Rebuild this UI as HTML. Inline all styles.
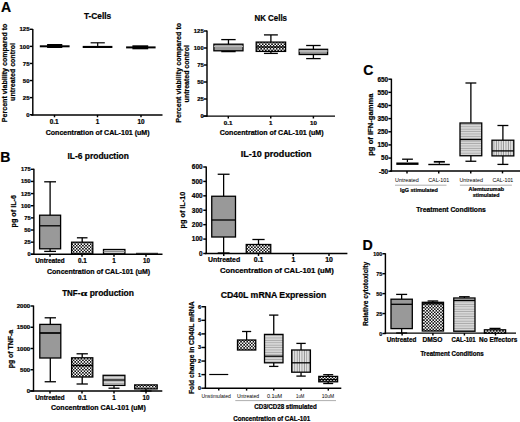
<!DOCTYPE html>
<html><head><meta charset="utf-8"><style>
html,body{margin:0;padding:0;background:#fff;}
svg{display:block;}
text{font-family:"Liberation Sans", sans-serif;}
text[font-weight="bold"]{stroke:#000;stroke-width:0.22px;}
</style></head><body>
<svg width="520" height="422" viewBox="0 0 520 422">
<rect width="520" height="422" fill="#fff"/>

<defs>
<pattern id="chk" width="3.1" height="3.1" patternUnits="userSpaceOnUse">
  <rect width="3.1" height="3.1" fill="#111"/>
  <rect width="1.55" height="1.55" fill="#fff"/>
  <rect x="1.55" y="1.55" width="1.55" height="1.55" fill="#fff"/>
</pattern>
<pattern id="hstr" width="4" height="2.4" patternUnits="userSpaceOnUse">
  <rect width="4" height="2.4" fill="#dadada"/>
  <rect y="1.5" width="4" height="0.9" fill="#a6a6a6"/>
</pattern>
<pattern id="vstr" width="2.4" height="4" patternUnits="userSpaceOnUse">
  <rect width="2.4" height="4" fill="#e6e6e6"/>
  <rect x="1.5" width="0.9" height="4" fill="#8f8f8f"/>
</pattern>
</defs>

<text x="6.10" y="11.84" font-size="14" font-weight="bold" text-anchor="middle" fill="#000">A</text>
<text x="5.30" y="161.79" font-size="14" font-weight="bold" text-anchor="middle" fill="#000">B</text>
<text x="368.40" y="75.24" font-size="14" font-weight="bold" text-anchor="middle" fill="#000">C</text>
<text x="367.60" y="250.21" font-size="14.2" font-weight="bold" text-anchor="middle" fill="#000">D</text>
<line x1="32.80" y1="29.00" x2="32.80" y2="115.50" stroke="#000" stroke-width="1.45"/>
<line x1="29.80" y1="114.70" x2="32.80" y2="114.70" stroke="#000" stroke-width="1.45"/>
<text x="29.50" y="116.86" font-size="6.0" font-weight="bold" text-anchor="end" fill="#000">0</text>
<line x1="29.80" y1="97.62" x2="32.80" y2="97.62" stroke="#000" stroke-width="1.45"/>
<text x="29.50" y="99.78" font-size="6.0" font-weight="bold" text-anchor="end" fill="#000">25</text>
<line x1="29.80" y1="80.54" x2="32.80" y2="80.54" stroke="#000" stroke-width="1.45"/>
<text x="29.50" y="82.70" font-size="6.0" font-weight="bold" text-anchor="end" fill="#000">50</text>
<line x1="29.80" y1="63.46" x2="32.80" y2="63.46" stroke="#000" stroke-width="1.45"/>
<text x="29.50" y="65.62" font-size="6.0" font-weight="bold" text-anchor="end" fill="#000">75</text>
<line x1="29.80" y1="46.38" x2="32.80" y2="46.38" stroke="#000" stroke-width="1.45"/>
<text x="29.50" y="48.54" font-size="6.0" font-weight="bold" text-anchor="end" fill="#000">100</text>
<line x1="29.80" y1="29.30" x2="32.80" y2="29.30" stroke="#000" stroke-width="1.45"/>
<text x="29.50" y="31.46" font-size="6.0" font-weight="bold" text-anchor="end" fill="#000">125</text>
<line x1="31.00" y1="114.90" x2="162.50" y2="114.90" stroke="#000" stroke-width="1.45"/>
<line x1="54.50" y1="114.90" x2="54.50" y2="117.30" stroke="#000" stroke-width="1.45"/>
<line x1="97.50" y1="114.90" x2="97.50" y2="117.30" stroke="#000" stroke-width="1.45"/>
<line x1="141.00" y1="114.90" x2="141.00" y2="117.30" stroke="#000" stroke-width="1.45"/>
<text x="54.20" y="123.80" font-size="6.4" font-weight="bold" text-anchor="middle" fill="#000">0.1</text>
<text x="97.50" y="123.80" font-size="6.4" font-weight="bold" text-anchor="middle" fill="#000">1</text>
<text x="141.00" y="123.80" font-size="6.4" font-weight="bold" text-anchor="middle" fill="#000">10</text>
<text x="97.60" y="18.72" font-size="8.4" font-weight="bold" text-anchor="middle" fill="#000" textLength="27.20" lengthAdjust="spacingAndGlyphs">T-Cells</text>
<text x="97.65" y="135.02" font-size="7.0" font-weight="bold" text-anchor="middle" fill="#000" textLength="103.90" lengthAdjust="spacingAndGlyphs">Concentration of CAL-101 (uM)</text>
<text transform="translate(6.60,72.90) rotate(-90)" x="0" y="0" font-size="7.0" font-weight="bold" text-anchor="middle" textLength="98.60" lengthAdjust="spacingAndGlyphs">Percent viability compared to</text>
<text transform="translate(14.90,71.95) rotate(-90)" x="0" y="0" font-size="7.0" font-weight="bold" text-anchor="middle" textLength="57.90" lengthAdjust="spacingAndGlyphs">untreated control</text>
<rect x="39.80" y="45.30" width="29.80" height="2.0" fill="#000"/>
<rect x="47.10" y="44.00" width="15.20" height="4.0" fill="#000"/>
<rect x="82.7" y="45.9" width="29.7" height="2.1" fill="#000"/>
<line x1="97.70" y1="42.80" x2="97.70" y2="46.00" stroke="#000" stroke-width="1.2"/>
<line x1="90.60" y1="42.80" x2="104.80" y2="42.80" stroke="#000" stroke-width="1.2"/>
<rect x="126.10" y="46.40" width="29.50" height="2.0" fill="#000"/>
<rect x="132.40" y="45.30" width="15.80" height="4.0" fill="#000"/>
<line x1="207.00" y1="30.50" x2="207.00" y2="116.70" stroke="#000" stroke-width="1.45"/>
<line x1="204.00" y1="116.00" x2="207.00" y2="116.00" stroke="#000" stroke-width="1.45"/>
<text x="203.70" y="118.12" font-size="5.9" font-weight="bold" text-anchor="end" fill="#000">0</text>
<line x1="204.00" y1="99.00" x2="207.00" y2="99.00" stroke="#000" stroke-width="1.45"/>
<text x="203.70" y="101.12" font-size="5.9" font-weight="bold" text-anchor="end" fill="#000">25</text>
<line x1="204.00" y1="82.00" x2="207.00" y2="82.00" stroke="#000" stroke-width="1.45"/>
<text x="203.70" y="84.12" font-size="5.9" font-weight="bold" text-anchor="end" fill="#000">50</text>
<line x1="204.00" y1="65.00" x2="207.00" y2="65.00" stroke="#000" stroke-width="1.45"/>
<text x="203.70" y="67.12" font-size="5.9" font-weight="bold" text-anchor="end" fill="#000">75</text>
<line x1="204.00" y1="48.00" x2="207.00" y2="48.00" stroke="#000" stroke-width="1.45"/>
<text x="203.70" y="50.12" font-size="5.9" font-weight="bold" text-anchor="end" fill="#000">100</text>
<line x1="204.00" y1="31.00" x2="207.00" y2="31.00" stroke="#000" stroke-width="1.45"/>
<text x="203.70" y="33.12" font-size="5.9" font-weight="bold" text-anchor="end" fill="#000">125</text>
<line x1="202.70" y1="116.10" x2="335.00" y2="116.10" stroke="#000" stroke-width="1.45"/>
<line x1="228.30" y1="116.10" x2="228.30" y2="118.50" stroke="#000" stroke-width="1.45"/>
<line x1="270.75" y1="116.10" x2="270.75" y2="118.50" stroke="#000" stroke-width="1.45"/>
<line x1="313.40" y1="116.10" x2="313.40" y2="118.50" stroke="#000" stroke-width="1.45"/>
<text x="228.10" y="124.73" font-size="6.2" font-weight="bold" text-anchor="middle" fill="#000">0.1</text>
<text x="270.75" y="124.73" font-size="6.2" font-weight="bold" text-anchor="middle" fill="#000">1</text>
<text x="313.40" y="124.73" font-size="6.2" font-weight="bold" text-anchor="middle" fill="#000">10</text>
<text x="270.75" y="21.27" font-size="8.4" font-weight="bold" text-anchor="middle" fill="#000" textLength="32.50" lengthAdjust="spacingAndGlyphs">NK Cells</text>
<text x="271.65" y="135.02" font-size="7.0" font-weight="bold" text-anchor="middle" fill="#000" textLength="103.90" lengthAdjust="spacingAndGlyphs">Concentration of CAL-101 (uM)</text>
<text transform="translate(180.90,72.80) rotate(-90)" x="0" y="0" font-size="7.0" font-weight="bold" text-anchor="middle" textLength="100.00" lengthAdjust="spacingAndGlyphs">Percent viability compared to</text>
<text transform="translate(188.90,73.70) rotate(-90)" x="0" y="0" font-size="7.0" font-weight="bold" text-anchor="middle" textLength="57.40" lengthAdjust="spacingAndGlyphs">untreated control</text>
<line x1="228.45" y1="39.60" x2="228.45" y2="44.20" stroke="#000" stroke-width="1.3"/>
<line x1="221.25" y1="39.60" x2="235.65" y2="39.60" stroke="#000" stroke-width="1.3"/>
<line x1="228.45" y1="50.80" x2="228.45" y2="51.60" stroke="#000" stroke-width="1.3"/>
<line x1="221.25" y1="51.60" x2="235.65" y2="51.60" stroke="#000" stroke-width="1.3"/>
<rect x="213.90" y="44.20" width="29.10" height="6.60" fill="#999999" stroke="#000" stroke-width="1.3"/>
<line x1="213.90" y1="46.40" x2="243.00" y2="46.40" stroke="#b5b5b5" stroke-width="1.3"/>
<line x1="270.90" y1="34.90" x2="270.90" y2="42.10" stroke="#000" stroke-width="1.3"/>
<line x1="263.95" y1="34.90" x2="277.85" y2="34.90" stroke="#000" stroke-width="1.3"/>
<line x1="270.90" y1="51.40" x2="270.90" y2="53.40" stroke="#000" stroke-width="1.3"/>
<line x1="263.95" y1="53.40" x2="277.85" y2="53.40" stroke="#000" stroke-width="1.3"/>
<rect x="256.20" y="42.10" width="29.40" height="9.30" fill="url(#chk)" stroke="#000" stroke-width="1.3"/>
<line x1="256.20" y1="47.00" x2="285.60" y2="47.00" stroke="#000" stroke-width="1.3"/>
<line x1="313.40" y1="45.50" x2="313.40" y2="49.30" stroke="#000" stroke-width="1.3"/>
<line x1="306.15" y1="45.50" x2="320.65" y2="45.50" stroke="#000" stroke-width="1.3"/>
<line x1="313.40" y1="54.50" x2="313.40" y2="58.60" stroke="#000" stroke-width="1.3"/>
<line x1="306.15" y1="58.60" x2="320.65" y2="58.60" stroke="#000" stroke-width="1.3"/>
<rect x="299.20" y="49.30" width="28.40" height="5.20" fill="#999999" stroke="#000" stroke-width="1.3"/>
<line x1="299.20" y1="51.00" x2="327.60" y2="51.00" stroke="#c8c8c8" stroke-width="1.3"/>
<line x1="33.90" y1="168.80" x2="33.90" y2="254.90" stroke="#000" stroke-width="1.45"/>
<line x1="30.90" y1="254.30" x2="33.90" y2="254.30" stroke="#000" stroke-width="1.45"/>
<text x="30.60" y="256.35" font-size="5.7" font-weight="bold" text-anchor="end" fill="#000">0</text>
<line x1="30.90" y1="242.16" x2="33.90" y2="242.16" stroke="#000" stroke-width="1.45"/>
<text x="30.60" y="244.21" font-size="5.7" font-weight="bold" text-anchor="end" fill="#000">25</text>
<line x1="30.90" y1="230.01" x2="33.90" y2="230.01" stroke="#000" stroke-width="1.45"/>
<text x="30.60" y="232.07" font-size="5.7" font-weight="bold" text-anchor="end" fill="#000">50</text>
<line x1="30.90" y1="217.87" x2="33.90" y2="217.87" stroke="#000" stroke-width="1.45"/>
<text x="30.60" y="219.92" font-size="5.7" font-weight="bold" text-anchor="end" fill="#000">75</text>
<line x1="30.90" y1="205.73" x2="33.90" y2="205.73" stroke="#000" stroke-width="1.45"/>
<text x="30.60" y="207.78" font-size="5.7" font-weight="bold" text-anchor="end" fill="#000">100</text>
<line x1="30.90" y1="193.59" x2="33.90" y2="193.59" stroke="#000" stroke-width="1.45"/>
<text x="30.60" y="195.64" font-size="5.7" font-weight="bold" text-anchor="end" fill="#000">125</text>
<line x1="30.90" y1="181.44" x2="33.90" y2="181.44" stroke="#000" stroke-width="1.45"/>
<text x="30.60" y="183.49" font-size="5.7" font-weight="bold" text-anchor="end" fill="#000">150</text>
<line x1="30.90" y1="169.30" x2="33.90" y2="169.30" stroke="#000" stroke-width="1.45"/>
<text x="30.60" y="171.35" font-size="5.7" font-weight="bold" text-anchor="end" fill="#000">175</text>
<line x1="31.00" y1="254.30" x2="162.50" y2="254.30" stroke="#000" stroke-width="1.45"/>
<line x1="50.00" y1="254.30" x2="50.00" y2="256.70" stroke="#000" stroke-width="1.45"/>
<line x1="82.00" y1="254.30" x2="82.00" y2="256.70" stroke="#000" stroke-width="1.45"/>
<line x1="114.00" y1="254.30" x2="114.00" y2="256.70" stroke="#000" stroke-width="1.45"/>
<line x1="146.00" y1="254.30" x2="146.00" y2="256.70" stroke="#000" stroke-width="1.45"/>
<text x="50.00" y="262.77" font-size="6.3" font-weight="bold" text-anchor="middle" fill="#000">Untreated</text>
<text x="82.50" y="262.77" font-size="6.3" font-weight="bold" text-anchor="middle" fill="#000">0.1</text>
<text x="114.00" y="262.77" font-size="6.3" font-weight="bold" text-anchor="middle" fill="#000">1</text>
<text x="146.40" y="262.77" font-size="6.3" font-weight="bold" text-anchor="middle" fill="#000">10</text>
<text x="98.15" y="159.02" font-size="8.4" font-weight="bold" text-anchor="middle" fill="#000" textLength="61.30" lengthAdjust="spacingAndGlyphs">IL-6 production</text>
<text x="98.60" y="273.82" font-size="7.0" font-weight="bold" text-anchor="middle" fill="#000" textLength="103.20" lengthAdjust="spacingAndGlyphs">Concentration of CAL-101 (uM)</text>
<text transform="translate(16.10,211.25) rotate(-90)" x="0" y="0" font-size="6.9" font-weight="bold" text-anchor="middle" textLength="32.50" lengthAdjust="spacingAndGlyphs">pg of IL-6</text>
<line x1="50.10" y1="181.80" x2="50.10" y2="215.20" stroke="#000" stroke-width="1.3"/>
<line x1="44.20" y1="181.80" x2="56.00" y2="181.80" stroke="#000" stroke-width="1.3"/>
<line x1="50.10" y1="248.80" x2="50.10" y2="251.40" stroke="#000" stroke-width="1.3"/>
<line x1="44.20" y1="251.40" x2="56.00" y2="251.40" stroke="#000" stroke-width="1.3"/>
<rect x="39.60" y="215.20" width="21.00" height="33.60" fill="#999999" stroke="#000" stroke-width="1.3"/>
<line x1="39.60" y1="225.80" x2="60.60" y2="225.80" stroke="#000" stroke-width="1.3"/>
<line x1="82.20" y1="237.80" x2="82.20" y2="242.20" stroke="#000" stroke-width="1.3"/>
<line x1="76.90" y1="237.80" x2="87.50" y2="237.80" stroke="#000" stroke-width="1.3"/>
<rect x="71.60" y="242.20" width="21.20" height="11.60" fill="url(#chk)" stroke="#000" stroke-width="1.3"/>
<rect x="103.50" y="249.50" width="21.40" height="4.30" fill="#d8d8d8" stroke="#000" stroke-width="1.3"/>
<line x1="103.50" y1="251.60" x2="124.90" y2="251.60" stroke="#888" stroke-width="1.0"/>
<line x1="136.00" y1="253.30" x2="158.00" y2="253.30" stroke="#000" stroke-width="0.9"/>
<line x1="206.25" y1="166.50" x2="206.25" y2="254.10" stroke="#000" stroke-width="1.45"/>
<line x1="203.25" y1="253.50" x2="206.25" y2="253.50" stroke="#000" stroke-width="1.45"/>
<text x="202.65" y="255.84" font-size="6.5" font-weight="bold" text-anchor="end" fill="#000">0</text>
<line x1="203.25" y1="239.08" x2="206.25" y2="239.08" stroke="#000" stroke-width="1.45"/>
<text x="202.65" y="241.42" font-size="6.5" font-weight="bold" text-anchor="end" fill="#000">100</text>
<line x1="203.25" y1="224.67" x2="206.25" y2="224.67" stroke="#000" stroke-width="1.45"/>
<text x="202.65" y="227.01" font-size="6.5" font-weight="bold" text-anchor="end" fill="#000">200</text>
<line x1="203.25" y1="210.25" x2="206.25" y2="210.25" stroke="#000" stroke-width="1.45"/>
<text x="202.65" y="212.59" font-size="6.5" font-weight="bold" text-anchor="end" fill="#000">300</text>
<line x1="203.25" y1="195.83" x2="206.25" y2="195.83" stroke="#000" stroke-width="1.45"/>
<text x="202.65" y="198.17" font-size="6.5" font-weight="bold" text-anchor="end" fill="#000">400</text>
<line x1="203.25" y1="181.42" x2="206.25" y2="181.42" stroke="#000" stroke-width="1.45"/>
<text x="202.65" y="183.76" font-size="6.5" font-weight="bold" text-anchor="end" fill="#000">500</text>
<line x1="203.25" y1="167.00" x2="206.25" y2="167.00" stroke="#000" stroke-width="1.45"/>
<text x="202.65" y="169.34" font-size="6.5" font-weight="bold" text-anchor="end" fill="#000">600</text>
<line x1="205.00" y1="253.50" x2="347.40" y2="253.50" stroke="#000" stroke-width="1.45"/>
<line x1="223.75" y1="253.50" x2="223.75" y2="255.90" stroke="#000" stroke-width="1.45"/>
<line x1="258.50" y1="253.50" x2="258.50" y2="255.90" stroke="#000" stroke-width="1.45"/>
<line x1="293.25" y1="253.50" x2="293.25" y2="255.90" stroke="#000" stroke-width="1.45"/>
<line x1="329.00" y1="253.50" x2="329.00" y2="255.90" stroke="#000" stroke-width="1.45"/>
<text x="224.10" y="262.28" font-size="6.9" font-weight="bold" text-anchor="middle" fill="#000">Untreated</text>
<text x="258.60" y="262.28" font-size="6.9" font-weight="bold" text-anchor="middle" fill="#000">0.1</text>
<text x="293.40" y="262.28" font-size="6.9" font-weight="bold" text-anchor="middle" fill="#000">1</text>
<text x="329.10" y="262.28" font-size="6.9" font-weight="bold" text-anchor="middle" fill="#000">10</text>
<text x="276.12" y="157.27" font-size="8.4" font-weight="bold" text-anchor="middle" fill="#000" textLength="70.75" lengthAdjust="spacingAndGlyphs">IL-10 production</text>
<text x="276.90" y="273.02" font-size="7.0" font-weight="bold" text-anchor="middle" fill="#000" textLength="113.80" lengthAdjust="spacingAndGlyphs">Concentration of CAL-101 (uM)</text>
<text transform="translate(185.40,210.10) rotate(-90)" x="0" y="0" font-size="7.2" font-weight="bold" text-anchor="middle" textLength="36.60" lengthAdjust="spacingAndGlyphs">pg of IL-10</text>
<line x1="223.62" y1="174.25" x2="223.62" y2="196.25" stroke="#000" stroke-width="1.3"/>
<line x1="217.69" y1="174.25" x2="229.56" y2="174.25" stroke="#000" stroke-width="1.3"/>
<line x1="223.62" y1="237.00" x2="223.62" y2="253.00" stroke="#000" stroke-width="1.3"/>
<line x1="217.69" y1="253.00" x2="229.56" y2="253.00" stroke="#000" stroke-width="1.3"/>
<rect x="211.75" y="196.25" width="23.75" height="40.75" fill="#999999" stroke="#000" stroke-width="1.3"/>
<line x1="211.75" y1="220.00" x2="235.50" y2="220.00" stroke="#000" stroke-width="1.3"/>
<line x1="258.50" y1="239.50" x2="258.50" y2="244.50" stroke="#000" stroke-width="1.3"/>
<line x1="252.38" y1="239.50" x2="264.62" y2="239.50" stroke="#000" stroke-width="1.3"/>
<rect x="246.25" y="244.50" width="24.50" height="8.80" fill="url(#chk)" stroke="#000" stroke-width="1.3"/>
<line x1="33.50" y1="305.50" x2="33.50" y2="391.60" stroke="#000" stroke-width="1.45"/>
<line x1="30.50" y1="391.00" x2="33.50" y2="391.00" stroke="#000" stroke-width="1.45"/>
<text x="30.20" y="393.20" font-size="6.1" font-weight="bold" text-anchor="end" fill="#000">0</text>
<line x1="30.50" y1="369.75" x2="33.50" y2="369.75" stroke="#000" stroke-width="1.45"/>
<text x="30.20" y="371.95" font-size="6.1" font-weight="bold" text-anchor="end" fill="#000">500</text>
<line x1="30.50" y1="348.50" x2="33.50" y2="348.50" stroke="#000" stroke-width="1.45"/>
<text x="30.20" y="350.70" font-size="6.1" font-weight="bold" text-anchor="end" fill="#000">1000</text>
<line x1="30.50" y1="327.25" x2="33.50" y2="327.25" stroke="#000" stroke-width="1.45"/>
<text x="30.20" y="329.45" font-size="6.1" font-weight="bold" text-anchor="end" fill="#000">1500</text>
<line x1="30.50" y1="306.00" x2="33.50" y2="306.00" stroke="#000" stroke-width="1.45"/>
<text x="30.20" y="308.20" font-size="6.1" font-weight="bold" text-anchor="end" fill="#000">2000</text>
<line x1="30.00" y1="391.00" x2="162.30" y2="391.00" stroke="#000" stroke-width="1.45"/>
<line x1="50.00" y1="391.00" x2="50.00" y2="393.40" stroke="#000" stroke-width="1.45"/>
<line x1="82.00" y1="391.00" x2="82.00" y2="393.40" stroke="#000" stroke-width="1.45"/>
<line x1="114.00" y1="391.00" x2="114.00" y2="393.40" stroke="#000" stroke-width="1.45"/>
<line x1="146.00" y1="391.00" x2="146.00" y2="393.40" stroke="#000" stroke-width="1.45"/>
<text x="50.00" y="399.77" font-size="6.3" font-weight="bold" text-anchor="middle" fill="#000">Untreated</text>
<text x="82.50" y="399.77" font-size="6.3" font-weight="bold" text-anchor="middle" fill="#000">0.1</text>
<text x="114.00" y="399.77" font-size="6.3" font-weight="bold" text-anchor="middle" fill="#000">1</text>
<text x="146.00" y="399.77" font-size="6.3" font-weight="bold" text-anchor="middle" fill="#000">10</text>
<text x="62.3" y="295.6" font-size="8.3" font-weight="bold" textLength="18.0" lengthAdjust="spacingAndGlyphs">TNF-</text>
<text x="80.6" y="295.6" font-size="9.2" font-weight="bold" style="font-family:'Liberation Serif',serif" textLength="6.8" lengthAdjust="spacingAndGlyphs">&#945;</text>
<text x="89.7" y="295.6" font-size="8.3" font-weight="bold" textLength="44.2" lengthAdjust="spacingAndGlyphs">production</text>
<text x="98.40" y="410.32" font-size="7.0" font-weight="bold" text-anchor="middle" fill="#000" textLength="94.80" lengthAdjust="spacingAndGlyphs">Concentration CAL-101 (uM)</text>
<text transform="translate(13.00,349.05) rotate(-90)" x="0" y="0" font-size="6.8" font-weight="bold" text-anchor="middle" textLength="38.50" lengthAdjust="spacingAndGlyphs">pg of TNF-a</text>
<line x1="50.30" y1="317.80" x2="50.30" y2="324.40" stroke="#000" stroke-width="1.3"/>
<line x1="44.65" y1="317.80" x2="55.95" y2="317.80" stroke="#000" stroke-width="1.3"/>
<line x1="50.30" y1="358.00" x2="50.30" y2="381.75" stroke="#000" stroke-width="1.3"/>
<line x1="44.65" y1="381.75" x2="55.95" y2="381.75" stroke="#000" stroke-width="1.3"/>
<rect x="39.80" y="324.40" width="21.00" height="33.60" fill="#999999" stroke="#000" stroke-width="1.3"/>
<line x1="39.80" y1="333.00" x2="60.80" y2="333.00" stroke="#000" stroke-width="1.7"/>
<line x1="82.20" y1="353.80" x2="82.20" y2="357.80" stroke="#000" stroke-width="1.3"/>
<line x1="76.55" y1="353.80" x2="87.85" y2="353.80" stroke="#000" stroke-width="1.3"/>
<line x1="82.20" y1="377.00" x2="82.20" y2="384.00" stroke="#000" stroke-width="1.3"/>
<line x1="76.55" y1="384.00" x2="87.85" y2="384.00" stroke="#000" stroke-width="1.3"/>
<rect x="71.60" y="357.80" width="21.20" height="19.20" fill="url(#chk)" stroke="#000" stroke-width="1.3"/>
<line x1="71.60" y1="365.50" x2="92.80" y2="365.50" stroke="#000" stroke-width="1.5"/>
<line x1="114.00" y1="385.40" x2="114.00" y2="388.20" stroke="#000" stroke-width="1.3"/>
<line x1="108.50" y1="388.20" x2="119.50" y2="388.20" stroke="#000" stroke-width="1.3"/>
<rect x="103.10" y="375.30" width="21.80" height="10.10" fill="url(#hstr)" stroke="#000" stroke-width="1.3"/>
<line x1="103.10" y1="380.00" x2="124.90" y2="380.00" stroke="#000" stroke-width="1.3"/>
<line x1="145.95" y1="388.90" x2="145.95" y2="391.00" stroke="#000" stroke-width="1.3"/>
<line x1="140.32" y1="391.00" x2="151.57" y2="391.00" stroke="#000" stroke-width="1.3"/>
<rect x="134.70" y="384.90" width="22.50" height="4.00" fill="url(#chk)" stroke="#000" stroke-width="1.3"/>
<line x1="205.40" y1="306.10" x2="205.40" y2="388.80" stroke="#000" stroke-width="1.45"/>
<line x1="201.40" y1="388.20" x2="205.40" y2="388.20" stroke="#000" stroke-width="1.45"/>
<text x="201.10" y="390.14" font-size="5.4" font-weight="bold" text-anchor="end" fill="#000">0</text>
<line x1="201.40" y1="374.62" x2="205.40" y2="374.62" stroke="#000" stroke-width="1.45"/>
<text x="201.10" y="376.57" font-size="5.4" font-weight="bold" text-anchor="end" fill="#000">1</text>
<line x1="201.40" y1="361.05" x2="205.40" y2="361.05" stroke="#000" stroke-width="1.45"/>
<text x="201.10" y="362.99" font-size="5.4" font-weight="bold" text-anchor="end" fill="#000">2</text>
<line x1="201.40" y1="347.48" x2="205.40" y2="347.48" stroke="#000" stroke-width="1.45"/>
<text x="201.10" y="349.42" font-size="5.4" font-weight="bold" text-anchor="end" fill="#000">3</text>
<line x1="201.40" y1="333.90" x2="205.40" y2="333.90" stroke="#000" stroke-width="1.45"/>
<text x="201.10" y="335.84" font-size="5.4" font-weight="bold" text-anchor="end" fill="#000">4</text>
<line x1="201.40" y1="320.32" x2="205.40" y2="320.32" stroke="#000" stroke-width="1.45"/>
<text x="201.10" y="322.27" font-size="5.4" font-weight="bold" text-anchor="end" fill="#000">5</text>
<line x1="201.40" y1="306.75" x2="205.40" y2="306.75" stroke="#000" stroke-width="1.45"/>
<text x="201.10" y="308.69" font-size="5.4" font-weight="bold" text-anchor="end" fill="#000">6</text>
<line x1="204.60" y1="388.20" x2="341.30" y2="388.20" stroke="#000" stroke-width="1.45"/>
<line x1="218.75" y1="388.20" x2="218.75" y2="390.60" stroke="#000" stroke-width="1.45"/>
<line x1="246.60" y1="388.20" x2="246.60" y2="390.60" stroke="#000" stroke-width="1.45"/>
<line x1="273.75" y1="388.20" x2="273.75" y2="390.60" stroke="#000" stroke-width="1.45"/>
<line x1="301.00" y1="388.20" x2="301.00" y2="390.60" stroke="#000" stroke-width="1.45"/>
<line x1="328.30" y1="388.20" x2="328.30" y2="390.60" stroke="#000" stroke-width="1.45"/>
<text x="216.15" y="397.77" font-size="5.2" font-weight="normal" text-anchor="middle" fill="#000" textLength="29.50" lengthAdjust="spacingAndGlyphs">Unstimulated</text>
<text x="248.00" y="397.77" font-size="5.2" font-weight="normal" text-anchor="middle" fill="#000" textLength="22.20" lengthAdjust="spacingAndGlyphs">Untreated</text>
<text x="274.55" y="397.77" font-size="5.2" font-weight="normal" text-anchor="middle" fill="#000" textLength="15.30" lengthAdjust="spacingAndGlyphs">0.1uM</text>
<text x="300.20" y="397.77" font-size="5.2" font-weight="normal" text-anchor="middle" fill="#000" textLength="8.40" lengthAdjust="spacingAndGlyphs">1uM</text>
<text x="327.90" y="397.77" font-size="5.2" font-weight="normal" text-anchor="middle" fill="#000" textLength="12.40" lengthAdjust="spacingAndGlyphs">10uM</text>
<line x1="235.30" y1="400.60" x2="336.00" y2="400.60" stroke="#999" stroke-width="0.8"/>
<text x="285.50" y="408.77" font-size="6.3" font-weight="bold" text-anchor="middle" fill="#000" textLength="62.60" lengthAdjust="spacingAndGlyphs">CD3/CD28 stimulated</text>
<text x="271.70" y="421.17" font-size="6.3" font-weight="bold" text-anchor="middle" fill="#000" textLength="77.00" lengthAdjust="spacingAndGlyphs">Concentration of CAL-101</text>
<text x="273.57" y="297.63" font-size="8.7" font-weight="bold" text-anchor="middle" fill="#000" textLength="105.65" lengthAdjust="spacingAndGlyphs">CD40L mRNA Expression</text>
<text transform="translate(194.40,347.75) rotate(-90)" x="0" y="0" font-size="6.8" font-weight="bold" text-anchor="middle" textLength="92.50" lengthAdjust="spacingAndGlyphs">Fold change in CD40L mRNA</text>
<line x1="209.25" y1="374.50" x2="228.25" y2="374.50" stroke="#000" stroke-width="1.2"/>
<line x1="246.62" y1="331.50" x2="246.62" y2="340.00" stroke="#000" stroke-width="1.3"/>
<line x1="242.06" y1="331.50" x2="251.19" y2="331.50" stroke="#000" stroke-width="1.3"/>
<rect x="237.50" y="340.00" width="18.25" height="10.00" fill="url(#chk)" stroke="#000" stroke-width="1.3"/>
<line x1="273.75" y1="315.10" x2="273.75" y2="334.40" stroke="#000" stroke-width="1.3"/>
<line x1="269.12" y1="315.10" x2="278.38" y2="315.10" stroke="#000" stroke-width="1.3"/>
<line x1="273.75" y1="362.80" x2="273.75" y2="366.40" stroke="#000" stroke-width="1.3"/>
<line x1="269.12" y1="366.40" x2="278.38" y2="366.40" stroke="#000" stroke-width="1.3"/>
<rect x="264.50" y="334.40" width="18.50" height="28.40" fill="url(#hstr)" stroke="#000" stroke-width="1.3"/>
<line x1="264.50" y1="356.20" x2="283.00" y2="356.20" stroke="#000" stroke-width="1.3"/>
<line x1="301.05" y1="343.40" x2="301.05" y2="350.00" stroke="#000" stroke-width="1.3"/>
<line x1="296.37" y1="343.40" x2="305.72" y2="343.40" stroke="#000" stroke-width="1.3"/>
<line x1="301.05" y1="372.20" x2="301.05" y2="376.10" stroke="#000" stroke-width="1.3"/>
<line x1="296.37" y1="376.10" x2="305.72" y2="376.10" stroke="#000" stroke-width="1.3"/>
<rect x="291.70" y="350.00" width="18.70" height="22.20" fill="url(#vstr)" stroke="#000" stroke-width="1.3"/>
<line x1="291.70" y1="362.80" x2="310.40" y2="362.80" stroke="#000" stroke-width="1.3"/>
<line x1="328.20" y1="374.70" x2="328.20" y2="376.40" stroke="#000" stroke-width="1.3"/>
<line x1="323.20" y1="374.70" x2="333.20" y2="374.70" stroke="#000" stroke-width="1.3"/>
<line x1="328.20" y1="381.80" x2="328.20" y2="383.50" stroke="#000" stroke-width="1.3"/>
<line x1="323.20" y1="383.50" x2="333.20" y2="383.50" stroke="#000" stroke-width="1.3"/>
<rect x="318.80" y="376.40" width="18.80" height="5.40" fill="url(#chk)" stroke="#000" stroke-width="1.3"/>
<line x1="318.80" y1="379.60" x2="337.60" y2="379.60" stroke="#000" stroke-width="1.3"/>
<line x1="391.40" y1="78.70" x2="391.40" y2="171.80" stroke="#000" stroke-width="1.45"/>
<line x1="388.40" y1="171.20" x2="391.40" y2="171.20" stroke="#000" stroke-width="1.45"/>
<text x="388.20" y="173.50" font-size="6.4" font-weight="bold" text-anchor="end" fill="#000">-50</text>
<line x1="388.40" y1="158.06" x2="391.40" y2="158.06" stroke="#000" stroke-width="1.45"/>
<text x="388.20" y="160.36" font-size="6.4" font-weight="bold" text-anchor="end" fill="#000">50</text>
<line x1="388.40" y1="144.91" x2="391.40" y2="144.91" stroke="#000" stroke-width="1.45"/>
<text x="388.20" y="147.22" font-size="6.4" font-weight="bold" text-anchor="end" fill="#000">150</text>
<line x1="388.40" y1="131.77" x2="391.40" y2="131.77" stroke="#000" stroke-width="1.45"/>
<text x="388.20" y="134.08" font-size="6.4" font-weight="bold" text-anchor="end" fill="#000">250</text>
<line x1="388.40" y1="118.63" x2="391.40" y2="118.63" stroke="#000" stroke-width="1.45"/>
<text x="388.20" y="120.93" font-size="6.4" font-weight="bold" text-anchor="end" fill="#000">350</text>
<line x1="388.40" y1="105.49" x2="391.40" y2="105.49" stroke="#000" stroke-width="1.45"/>
<text x="388.20" y="107.79" font-size="6.4" font-weight="bold" text-anchor="end" fill="#000">450</text>
<line x1="388.40" y1="92.34" x2="391.40" y2="92.34" stroke="#000" stroke-width="1.45"/>
<text x="388.20" y="94.65" font-size="6.4" font-weight="bold" text-anchor="end" fill="#000">550</text>
<line x1="388.40" y1="79.20" x2="391.40" y2="79.20" stroke="#000" stroke-width="1.45"/>
<text x="388.20" y="81.50" font-size="6.4" font-weight="bold" text-anchor="end" fill="#000">650</text>
<line x1="390.00" y1="171.00" x2="520.00" y2="171.00" stroke="#000" stroke-width="1.45"/>
<line x1="407.00" y1="171.00" x2="407.00" y2="173.40" stroke="#000" stroke-width="1.45"/>
<line x1="438.75" y1="171.00" x2="438.75" y2="173.40" stroke="#000" stroke-width="1.45"/>
<line x1="470.75" y1="171.00" x2="470.75" y2="173.40" stroke="#000" stroke-width="1.45"/>
<line x1="502.50" y1="171.00" x2="502.50" y2="173.40" stroke="#000" stroke-width="1.45"/>
<text x="406.88" y="182.12" font-size="5.9" font-weight="normal" text-anchor="middle" fill="#000" textLength="23.75" lengthAdjust="spacingAndGlyphs">Untreated</text>
<text x="438.75" y="182.12" font-size="5.9" font-weight="normal" text-anchor="middle" fill="#000" textLength="21.00" lengthAdjust="spacingAndGlyphs">CAL-101</text>
<text x="471.25" y="182.12" font-size="5.9" font-weight="normal" text-anchor="middle" fill="#000" textLength="23.50" lengthAdjust="spacingAndGlyphs">Untreated</text>
<text x="502.88" y="182.12" font-size="5.9" font-weight="normal" text-anchor="middle" fill="#000" textLength="20.75" lengthAdjust="spacingAndGlyphs">CAL-101</text>
<line x1="395.00" y1="185.20" x2="446.50" y2="185.20" stroke="#999" stroke-width="0.8"/>
<line x1="459.90" y1="185.20" x2="511.90" y2="185.20" stroke="#999" stroke-width="0.8"/>
<text x="418.90" y="192.12" font-size="5.9" font-weight="bold" text-anchor="middle" fill="#000" textLength="37.80" lengthAdjust="spacingAndGlyphs">IgG stimulated</text>
<text x="486.25" y="190.92" font-size="5.9" font-weight="bold" text-anchor="middle" fill="#000" textLength="35.50" lengthAdjust="spacingAndGlyphs">Alemtuzumab</text>
<text x="486.20" y="197.02" font-size="5.9" font-weight="bold" text-anchor="middle" fill="#000" textLength="26.80" lengthAdjust="spacingAndGlyphs">stimulated</text>
<text x="451.05" y="212.08" font-size="6.9" font-weight="bold" text-anchor="middle" fill="#000" textLength="69.50" lengthAdjust="spacingAndGlyphs">Treatment Conditions</text>
<text transform="translate(373.00,124.65) rotate(-90)" x="0" y="0" font-size="7.0" font-weight="bold" text-anchor="middle" textLength="62.30" lengthAdjust="spacingAndGlyphs">pg of IFN-gamma</text>
<rect x="396.3" y="162.5" width="22.2" height="2.4" fill="#000"/>
<line x1="407.40" y1="159.20" x2="407.40" y2="162.00" stroke="#000" stroke-width="1.2"/>
<line x1="402.10" y1="159.20" x2="412.90" y2="159.20" stroke="#000" stroke-width="1.3"/>
<rect x="428.3" y="163.8" width="21.5" height="1.4" fill="#000"/>
<line x1="439.30" y1="161.80" x2="439.30" y2="164.00" stroke="#000" stroke-width="1.0"/>
<line x1="433.80" y1="161.80" x2="444.90" y2="161.80" stroke="#000" stroke-width="1.7"/>
<line x1="470.88" y1="83.00" x2="470.88" y2="123.00" stroke="#000" stroke-width="1.3"/>
<line x1="465.44" y1="83.00" x2="476.31" y2="83.00" stroke="#000" stroke-width="1.3"/>
<line x1="470.88" y1="155.75" x2="470.88" y2="161.25" stroke="#000" stroke-width="1.3"/>
<line x1="465.44" y1="161.25" x2="476.31" y2="161.25" stroke="#000" stroke-width="1.3"/>
<rect x="460.00" y="123.00" width="21.75" height="32.75" fill="url(#hstr)" stroke="#000" stroke-width="1.3"/>
<line x1="460.00" y1="139.50" x2="481.75" y2="139.50" stroke="#000" stroke-width="1.3"/>
<line x1="502.90" y1="125.50" x2="502.90" y2="140.20" stroke="#000" stroke-width="1.3"/>
<line x1="497.45" y1="125.50" x2="508.35" y2="125.50" stroke="#000" stroke-width="1.3"/>
<line x1="502.90" y1="155.90" x2="502.90" y2="164.40" stroke="#000" stroke-width="1.3"/>
<line x1="497.45" y1="164.40" x2="508.35" y2="164.40" stroke="#000" stroke-width="1.3"/>
<rect x="492.00" y="140.20" width="21.80" height="15.70" fill="url(#vstr)" stroke="#000" stroke-width="1.3"/>
<line x1="492.00" y1="150.90" x2="513.80" y2="150.90" stroke="#000" stroke-width="1.3"/>
<line x1="385.40" y1="253.25" x2="385.40" y2="334.10" stroke="#000" stroke-width="1.45"/>
<line x1="382.40" y1="333.50" x2="385.40" y2="333.50" stroke="#000" stroke-width="1.45"/>
<text x="382.10" y="335.62" font-size="5.9" font-weight="bold" text-anchor="end" fill="#000" textLength="2.95" lengthAdjust="spacingAndGlyphs">0</text>
<line x1="382.40" y1="313.56" x2="385.40" y2="313.56" stroke="#000" stroke-width="1.45"/>
<text x="382.10" y="315.69" font-size="5.9" font-weight="bold" text-anchor="end" fill="#000" textLength="5.91" lengthAdjust="spacingAndGlyphs">25</text>
<line x1="382.40" y1="293.62" x2="385.40" y2="293.62" stroke="#000" stroke-width="1.45"/>
<text x="382.10" y="295.75" font-size="5.9" font-weight="bold" text-anchor="end" fill="#000" textLength="5.91" lengthAdjust="spacingAndGlyphs">50</text>
<line x1="382.40" y1="273.69" x2="385.40" y2="273.69" stroke="#000" stroke-width="1.45"/>
<text x="382.10" y="275.81" font-size="5.9" font-weight="bold" text-anchor="end" fill="#000" textLength="5.91" lengthAdjust="spacingAndGlyphs">75</text>
<line x1="382.40" y1="253.75" x2="385.40" y2="253.75" stroke="#000" stroke-width="1.45"/>
<text x="382.10" y="255.87" font-size="5.9" font-weight="bold" text-anchor="end" fill="#000" textLength="8.86" lengthAdjust="spacingAndGlyphs">100</text>
<line x1="384.50" y1="333.10" x2="516.00" y2="333.10" stroke="#000" stroke-width="1.45"/>
<line x1="402.10" y1="333.10" x2="402.10" y2="335.50" stroke="#000" stroke-width="1.45"/>
<line x1="432.90" y1="333.10" x2="432.90" y2="335.50" stroke="#000" stroke-width="1.45"/>
<line x1="464.40" y1="333.10" x2="464.40" y2="335.50" stroke="#000" stroke-width="1.45"/>
<line x1="495.50" y1="333.10" x2="495.50" y2="335.50" stroke="#000" stroke-width="1.45"/>
<text x="401.50" y="342.10" font-size="6.4" font-weight="bold" text-anchor="middle" fill="#000" textLength="29.60" lengthAdjust="spacingAndGlyphs">Untreated</text>
<text x="432.50" y="342.10" font-size="6.4" font-weight="bold" text-anchor="middle" fill="#000" textLength="20.00" lengthAdjust="spacingAndGlyphs">DMSO</text>
<text x="463.50" y="342.10" font-size="6.4" font-weight="bold" text-anchor="middle" fill="#000" textLength="24.20" lengthAdjust="spacingAndGlyphs">CAL-101</text>
<text x="498.15" y="342.10" font-size="6.4" font-weight="bold" text-anchor="middle" fill="#000" textLength="38.30" lengthAdjust="spacingAndGlyphs">No Effectors</text>
<text x="452.05" y="356.07" font-size="6.3" font-weight="bold" text-anchor="middle" fill="#000" textLength="63.30" lengthAdjust="spacingAndGlyphs">Treatment Conditions</text>
<text transform="translate(368.30,294.00) rotate(-90)" x="0" y="0" font-size="6.5" font-weight="bold" text-anchor="middle" textLength="64.20" lengthAdjust="spacingAndGlyphs">Relative cytotoxicity</text>
<line x1="401.65" y1="294.40" x2="401.65" y2="299.20" stroke="#000" stroke-width="1.3"/>
<line x1="396.15" y1="294.40" x2="407.15" y2="294.40" stroke="#000" stroke-width="1.3"/>
<line x1="401.65" y1="328.60" x2="401.65" y2="333.00" stroke="#000" stroke-width="1.3"/>
<line x1="396.15" y1="333.00" x2="407.15" y2="333.00" stroke="#000" stroke-width="1.3"/>
<rect x="391.00" y="299.20" width="21.30" height="29.40" fill="#999999" stroke="#000" stroke-width="1.3"/>
<line x1="391.00" y1="304.30" x2="412.30" y2="304.30" stroke="#000" stroke-width="1.3"/>
<line x1="432.90" y1="301.00" x2="432.90" y2="302.30" stroke="#000" stroke-width="1.3"/>
<line x1="427.60" y1="301.00" x2="438.20" y2="301.00" stroke="#000" stroke-width="1.3"/>
<rect x="422.30" y="302.30" width="21.20" height="28.70" fill="url(#chk)" stroke="#000" stroke-width="1.3"/>
<line x1="422.30" y1="303.80" x2="443.50" y2="303.80" stroke="#000" stroke-width="1.3"/>
<line x1="464.38" y1="296.75" x2="464.38" y2="298.00" stroke="#000" stroke-width="1.3"/>
<line x1="459.06" y1="296.75" x2="469.69" y2="296.75" stroke="#000" stroke-width="1.3"/>
<rect x="453.75" y="298.00" width="21.25" height="33.25" fill="url(#hstr)" stroke="#000" stroke-width="1.3"/>
<line x1="453.75" y1="300.50" x2="475.00" y2="300.50" stroke="#000" stroke-width="1.3"/>
<line x1="495.00" y1="328.40" x2="495.00" y2="329.80" stroke="#000" stroke-width="1.3"/>
<line x1="489.50" y1="328.40" x2="500.50" y2="328.40" stroke="#000" stroke-width="1.3"/>
<rect x="484.40" y="329.80" width="21.20" height="3.40" fill="url(#chk)" stroke="#000" stroke-width="1.3"/>
</svg>
</body></html>
